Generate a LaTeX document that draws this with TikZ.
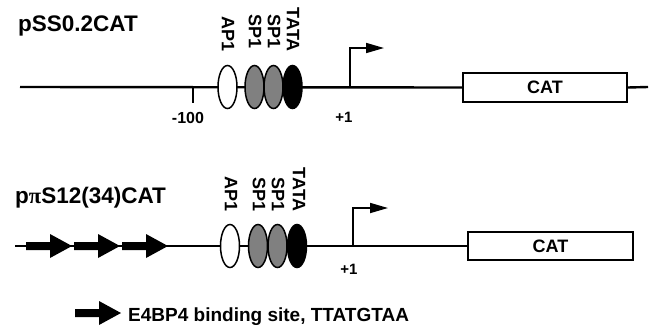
\documentclass[tikz,border=0pt]{standalone}
\usepackage{fontspec}
\setmainfont{Liberation Sans}
\newfontfamily\pifont{Liberation Serif}
\usetikzlibrary{shapes.geometric,arrows.meta,positioning}

\tikzset{
  dna/.style={line width=2.4pt},
  catbox/.style={draw, line width=1.4pt, fill=white, inner sep=0pt,
    font=\fontsize{18}{18}\selectfont\bfseries},
  bsite/.style={ellipse, draw, line width=1.5pt, minimum width=19pt,
    minimum height=43pt, inner sep=0pt},
  tflabel/.style={rotate=-90, anchor=east, inner sep=0pt,
    font=\fontsize{18}{18}\selectfont\bfseries},
  tss/.style={line width=1.7pt, -{Triangle[length=18pt,width=10pt]}},
  small/.style={inner sep=0pt, font=\fontsize{15}{16}\selectfont\bfseries},
  title/.style={anchor=base west, inner sep=0pt,
    font=\fontsize{22.5}{24}\selectfont\bfseries},
  e4bp4/.pic={\fill (0,-4) -- (24,-4) -- (24,-12) -- (46,0) -- (24,12)
    -- (24,4) -- (0,4) -- cycle;}
}

\begin{document}
\begin{tikzpicture}[x=1pt, y=-1pt]
  \useasboundingbox (0,0) rectangle (652,330);

  % pSS0.2CAT
  \node[title] (nameA) at (18,31) {pSS0.2CAT};
  \coordinate (startA) at (20,87);
  \coordinate (endA) at (648,87);
  \node[catbox, minimum width=164pt, minimum height=29pt] (catA) at (545,87.5) {CAT};
  \draw[dna] (startA) -- (catA.west);
  \draw[dna] (catA.east) -- (endA);

  \coordinate (tickA) at (193,87);
  \draw[line width=1.7pt] (tickA) -- ++(0,16);
  \node[small, font=\fontsize{16}{16}\selectfont\bfseries] (minusA) at (188,118) {-100};

  \node[bsite, fill=white] (apA) at (227.5,87) {};
  \node[bsite, fill=black!50] (spA) at (254.5,87) {};
  \node[bsite, fill=black!50] (spB) at (273.5,87) {};
  \node[bsite, fill=black] (tataA) at (292.5,87) {};
  \node[tflabel] (apAtext) at (228,52) {AP1};
  \node[tflabel] (spAtext) at (255,49) {SP1};
  \node[tflabel] (spBtext) at (274,49) {SP1};
  \node[tflabel] (tataAtext) at (293,52) {TATA};

  \coordinate (tssA) at (350,87);
  \coordinate (tipA) at (384,48);
  \draw[tss] (tssA) |- (tipA);
  \node[small] (plusA) at (344,117) {+1};

  % p(pi)S12(34)CAT
  \node[title] (nameB) at (15,203) {p{\pifont π}S12(34)CAT};
  \coordinate (startB) at (15,246);
  \node[catbox, minimum width=165pt, minimum height=28pt] (catB) at (550.5,246) {CAT};
  \draw[dna] (startB) -- (catB.west);

  % E4BP4 sites
  \foreach \i in {0,1,2}
    \pic at (26+48*\i,246) {e4bp4};

  \node[bsite, fill=white] (apB) at (230,246) {};
  \node[bsite, fill=black!50] (spC) at (258,246) {};
  \node[bsite, fill=black!50] (spD) at (277.5,246) {};
  \node[bsite, fill=black] (tataB) at (297,246) {};
  \node[tflabel] (apBtext) at (231,212) {AP1};
  \node[tflabel] (spCtext) at (259,212) {SP1};
  \node[tflabel] (spDtext) at (278,212) {SP1};
  \node[tflabel] (tataBtext) at (299,212) {TATA};

  \coordinate (tssB) at (353,246);
  \coordinate (tipB) at (388,208);
  \draw[tss] (tssB) |- (tipB);
  \node[small] (plusB) at (349,269) {+1};

  % legend
  \pic at (75,313) {e4bp4};
  \node[anchor=base west, inner sep=0pt, font=\fontsize{19}{20}\selectfont\bfseries]
    (legend) at (128,321) {E4BP4 binding site, TTATGTAA};
\end{tikzpicture}
\end{document}
